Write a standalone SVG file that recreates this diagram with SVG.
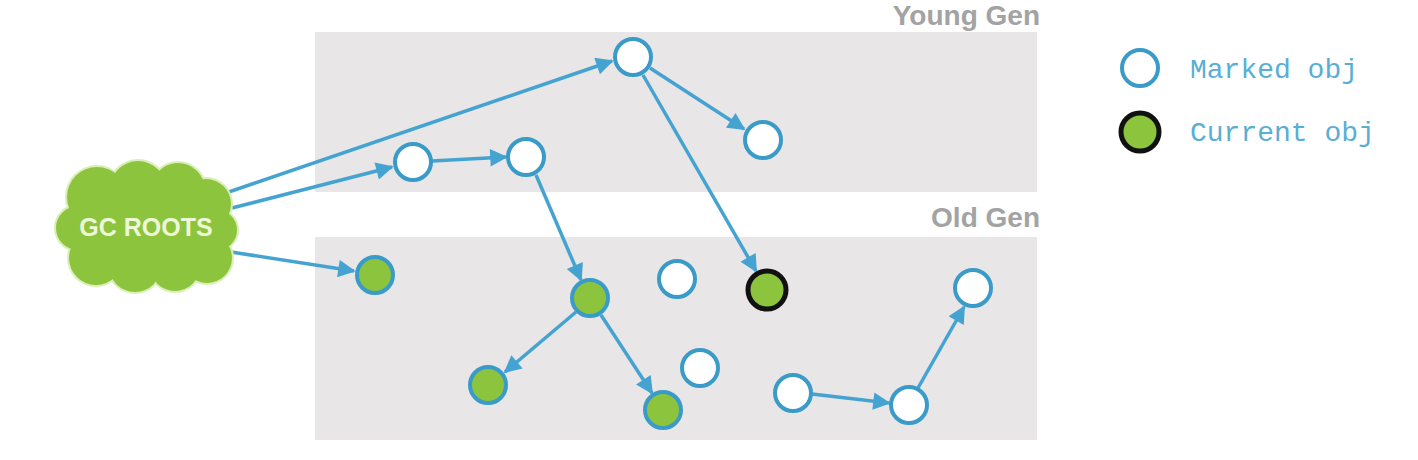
<svg xmlns="http://www.w3.org/2000/svg" width="1418" height="460" viewBox="0 0 1418 460">
<style>
.gen{fill:#e8e6e6}
.lbl{font-family:"Liberation Sans",Arial,sans-serif;font-weight:bold;font-size:28px;fill:#a3a3a3;text-anchor:end}
.m{fill:#ffffff;stroke:#3a9bc9;stroke-width:4}
.g{fill:#8cc43e;stroke:#3a9bc9;stroke-width:4}
.c{fill:#8cc43e;stroke:#111111;stroke-width:5}
.e{stroke:#45a3d2;stroke-width:3.5;fill:none;marker-end:url(#ah)}
.leg{font-family:"Liberation Mono","DejaVu Sans Mono",monospace;font-size:28px;fill:#5aaed3}
</style>
<defs>
<marker id="ah" viewBox="0 0 10 10" refX="9" refY="5" markerWidth="6" markerHeight="5" markerUnits="strokeWidth" orient="auto">
<path d="M0,0 L10,5 L0,10 z" fill="#45a3d2"/>
</marker>
</defs>
<rect width="1418" height="460" fill="#ffffff"/>
<rect class="gen" x="315" y="32" width="722" height="160"/>
<rect class="gen" x="315" y="237" width="722" height="203"/>
<text class="lbl" x="1040" y="25">Young Gen</text>
<text class="lbl" x="1040" y="227">Old Gen</text>

<g id="edges">
<line class="e" x1="220" y1="195" x2="612" y2="61"/>
<line class="e" x1="232" y1="208" x2="392" y2="167"/>
<line class="e" x1="218" y1="250" x2="354" y2="271"/>
<line class="e" x1="432" y1="161" x2="506" y2="157"/>
<line class="e" x1="650" y1="68" x2="744" y2="129"/>
<line class="e" x1="643" y1="75" x2="756" y2="271"/>
<line class="e" x1="536" y1="175" x2="581" y2="280"/>
<line class="e" x1="576" y1="312" x2="505" y2="372"/>
<line class="e" x1="601" y1="315" x2="652" y2="393"/>
<line class="e" x1="812" y1="394" x2="889" y2="403"/>
<line class="e" x1="918" y1="388" x2="964" y2="307"/>
</g>

<g id="gcroots">
<g fill="#d9efb5">
<ellipse cx="147" cy="228" rx="83" ry="48"/>
<circle cx="97" cy="197" r="32"/><circle cx="138" cy="189" r="30"/><circle cx="178" cy="190" r="29"/><circle cx="206" cy="204" r="27"/><circle cx="217" cy="230" r="22"/><circle cx="207" cy="258" r="27"/><circle cx="175" cy="266" r="27"/><circle cx="135" cy="266" r="28"/><circle cx="96" cy="258" r="29"/><circle cx="78" cy="228" r="24"/>
</g>
<g fill="#8cc43e">
<ellipse cx="147" cy="228" rx="80" ry="45"/>
<circle cx="97" cy="197" r="30"/><circle cx="138" cy="189" r="28"/><circle cx="178" cy="190" r="27"/><circle cx="206" cy="204" r="25"/><circle cx="217" cy="230" r="20"/><circle cx="207" cy="258" r="25"/><circle cx="175" cy="266" r="25"/><circle cx="135" cy="266" r="26"/><circle cx="96" cy="258" r="27"/><circle cx="78" cy="228" r="22"/>
</g>
<text x="146" y="236" font-family="Liberation Sans,Arial,sans-serif" font-weight="bold" font-size="25" fill="#eef7d6" text-anchor="middle">GC ROOTS</text>
</g>

<g id="nA"><circle class="m" cx="633" cy="57" r="18"/></g>
<g id="nB"><circle class="m" cx="763" cy="140" r="18"/></g>
<g id="nC"><circle class="m" cx="413" cy="162" r="18"/></g>
<g id="nD"><circle class="m" cx="526" cy="157" r="18"/></g>
<g id="nE"><circle class="g" cx="375" cy="275" r="18"/></g>
<g id="nF"><circle class="g" cx="590" cy="298" r="18"/></g>
<g id="nG"><circle class="m" cx="677" cy="279" r="18"/></g>
<g id="nH"><circle class="c" cx="767" cy="290" r="19"/></g>
<g id="nI"><circle class="g" cx="488" cy="385" r="18"/></g>
<g id="nJ"><circle class="g" cx="663" cy="410" r="18"/></g>
<g id="nK"><circle class="m" cx="700" cy="368" r="18"/></g>
<g id="nL"><circle class="m" cx="793" cy="393" r="18"/></g>
<g id="nM"><circle class="m" cx="909" cy="405" r="18"/></g>
<g id="nN"><circle class="m" cx="973" cy="288" r="18"/></g>

<g id="legend">
<circle class="m" cx="1140" cy="68" r="18"/>
<text class="leg" x="1190" y="78">Marked obj</text>
<circle class="c" cx="1140" cy="132" r="19"/>
<text class="leg" x="1190" y="141">Current obj</text>
</g>
</svg>
